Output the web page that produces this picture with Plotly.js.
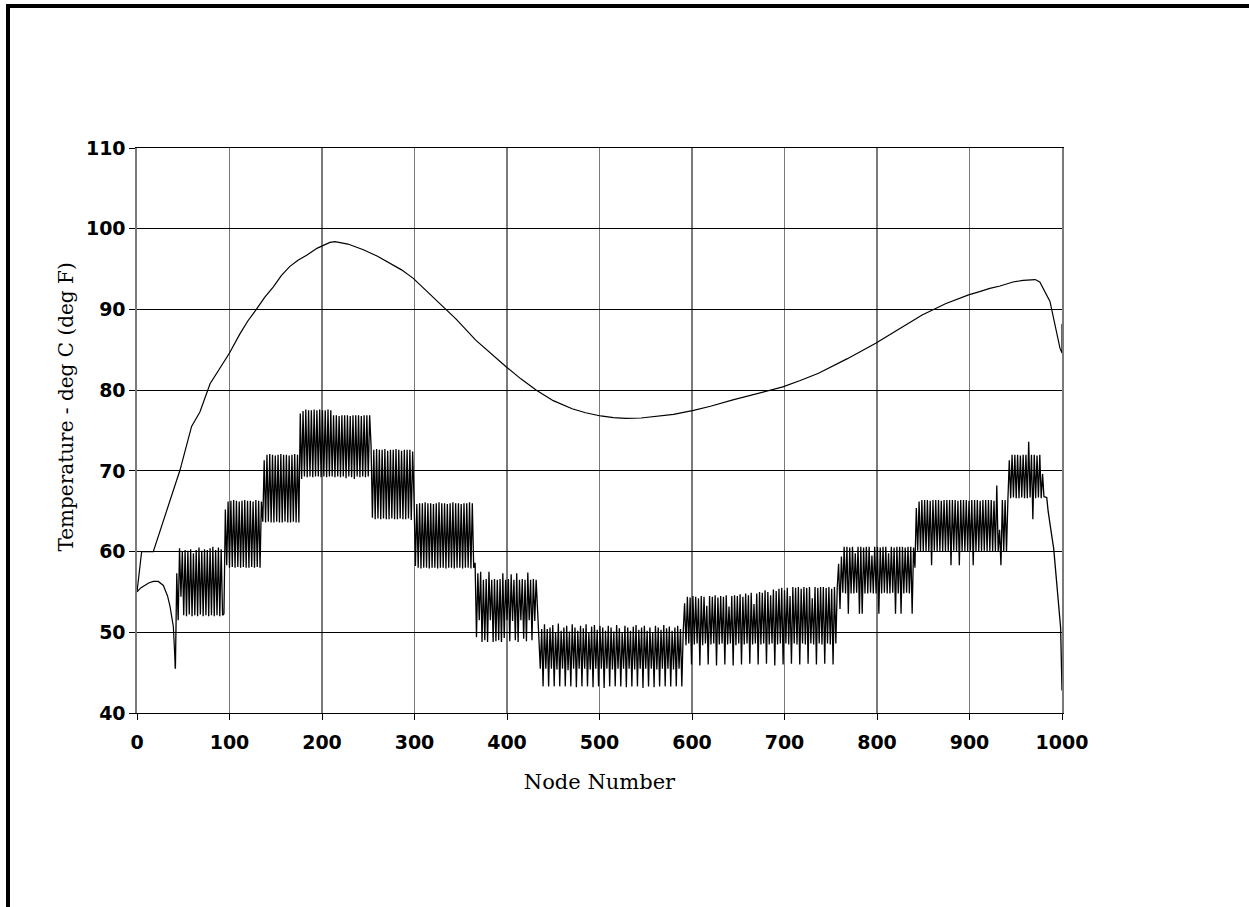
<!DOCTYPE html>
<html>
<head>
<meta charset="utf-8">
<script src="https://cdn.plot.ly/plotly-3.0.1.min.js"></script>
<style>
  html, body { margin: 0; padding: 0; background: #fff; }
  #chart { position: absolute; left: 0; top: 0; width: 1249px; height: 907px; }
  #frame { position: absolute; left: 6px; top: 4px; width: 1243px; height: 903px;
           border-top: 4px solid #000; border-left: 4px solid #000; box-sizing: border-box;
           pointer-events: none; }
</style>
</head>
<body>
<div id="chart"></div>
<div id="frame"></div>
<script>
// ---- Data ----
const xTicks = [0, 100, 200, 300, 400, 500, 600, 700, 800, 900, 1000];
const yTicks = [40, 50, 60, 70, 80, 90, 100, 110];

// Upper (smooth) temperature profile
const upperX = [0, 5, 17.6, 28.5, 46.5, 59, 68, 79, 100, 111.4, 120, 129, 138, 147.4, 156, 165, 174, 183.4, 195, 208.6, 214, 228, 244.7, 260, 273.5, 286, 298.7, 312, 327.6, 345, 366.2, 383, 399, 415, 431.8, 450, 470.4, 485, 501.3, 515, 528.3, 545, 559.2, 580, 601.7, 620, 644.2, 670, 698.2, 717, 736.8, 768, 798.6, 823, 848.8, 874, 899, 911, 922, 933, 947, 958, 971, 976, 987, 997.8, 1000, 1000];
const upperY = [55.0, 60.0, 60.0, 63.9, 70.1, 75.5, 77.3, 80.8, 84.6, 87.0, 88.6, 90.0, 91.5, 92.8, 94.2, 95.3, 96.1, 96.7, 97.6, 98.3, 98.4, 98.1, 97.4, 96.6, 95.7, 94.9, 93.85, 92.4, 90.75, 88.8, 86.2, 84.5, 82.9, 81.4, 80.0, 78.7, 77.7, 77.2, 76.8, 76.6, 76.5, 76.55, 76.7, 77.0, 77.5, 78.0, 78.8, 79.6, 80.4, 81.2, 82.1, 83.9, 85.8, 87.5, 89.3, 90.7, 91.8, 92.2, 92.6, 92.9, 93.4, 93.6, 93.7, 93.4, 91.0, 85.2, 84.6, 88.2];

// Lower profile: smooth start section
const lowerStartX = [0, 4, 12.6, 17.6, 23, 28.5, 33, 35.7, 39.3, 41.5];
const lowerStartY = [55.0, 55.5, 56.1, 56.3, 56.3, 55.8, 54.5, 53.2, 50.7, 45.5];

// Lower profile: oscillating section, one value every 1.5 nodes from node 41.5
const lowA = [45.5, 57.3, 51.5, 60.4, 54.4, 60.0, 52.1, 60.2, 52.0, 60.1, 52.2, 60.3, 52.0, 59.8, 52.1, 60.2, 52.0, 60.5, 52.2, 60.1, 52.0, 60.3, 52.1, 60.2, 52.0, 60.4, 52.1, 60.6, 52.0, 60.2, 52.1, 60.5, 52.0, 60.3, 52.1, 52.3];
const lowB = [65.2, 58.3, 66.2, 58.0, 66.3, 58.1, 66.4, 58.0, 66.3, 58.1, 66.2, 58.0, 66.3, 58.1, 66.4, 58.0, 66.3, 58.0, 66.3, 58.1, 66.2, 58.0, 66.4, 58.1, 66.3, 58.0, 66.2];
const lowC = [63.7, 71.3, 63.6, 72.0, 63.7, 72.1, 63.6, 72.0, 63.6, 71.9, 63.7, 72.0, 63.6, 72.1, 63.6, 72.0, 63.7, 72.0, 63.6, 71.9, 63.6, 72.0, 63.7, 72.1, 63.6, 72.0, 63.6];
const lowD1 = [77.1, 69.0, 77.4, 69.3, 77.6, 69.2, 77.5, 69.3, 77.5, 69.2, 77.6, 69.3, 77.5, 69.3, 77.6, 69.2, 77.5, 69.3, 77.5, 69.2, 77.6, 69.3, 77.5, 69.3];
const lowD2 = [76.9, 69.2, 76.9, 69.3, 76.8, 69.2, 76.9, 69.3, 76.9, 69.1, 76.9, 69.3, 76.8, 69.2, 76.9, 69.0, 76.9, 69.3, 76.9, 69.2, 76.8, 69.3, 76.9, 69.2, 76.9, 69.3, 76.9];
const lowE = [73.2, 64.2, 72.6, 64.0, 72.7, 64.1, 72.6, 64.0, 72.6, 64.1, 72.7, 64.0, 72.5, 64.0, 72.6, 64.1, 72.6, 64.0, 72.7, 64.0, 72.6, 64.1, 72.5, 64.0, 72.6, 64.0, 72.6, 64.1, 72.6, 63.9, 72.4];
const lowF = [66.5, 58.2, 65.9, 58.0, 66.0, 57.9, 66.0, 58.0, 66.1, 58.0, 66.0, 57.9, 66.0, 58.0, 65.9, 58.0, 66.0, 57.9, 66.1, 58.0, 66.0, 58.0, 66.0, 57.9, 65.9, 58.0, 66.0, 58.0, 66.1, 57.9, 66.0, 58.0, 66.0, 58.0, 65.9, 57.9, 66.0, 58.0, 66.0, 58.0, 66.1, 57.9, 66.0, 58.0];
const lowG = [58.6, 49.4, 57.3, 51.5, 57.5, 48.8, 56.5, 49.0, 56.6, 48.8, 57.5, 51.5, 56.5, 48.8, 56.6, 48.9, 56.5, 49.0, 56.6, 48.8, 57.3, 49.3, 56.5, 51.5, 56.6, 48.9, 57.2, 51.4, 56.5, 49.0, 57.3, 48.8, 56.5, 51.5, 56.6, 49.2, 56.5, 48.9, 57.4, 51.5, 56.5, 49.0, 56.6, 51.4, 56.5];
const lowH = [52.6, 50.7, 45.5, 50.4, 43.3, 51.0, 45.5, 50.4, 43.3, 50.6,
              45.5, 50.9, 43.3, 50.0, 45.4, 51.1, 43.3, 50.2, 45.5, 50.6,
              43.3, 50.8, 45.3, 50.1, 43.3, 51.0, 45.5, 50.6, 43.2, 50.2,
              45.5, 50.8, 43.3, 50.5, 45.5, 51.0, 43.3, 50.0, 45.4, 50.7,
              43.2, 50.9, 45.5, 50.3, 43.3, 50.8, 45.5, 50.6, 43.1, 50.2,
              45.5, 50.8, 43.3, 50.6, 45.4, 50.1, 43.3, 50.9, 45.5, 50.5,
              43.3, 50.0, 45.5, 50.8, 43.2, 50.6, 45.5, 50.2, 43.3, 50.7,
              45.4, 50.9, 43.3, 50.3, 45.5, 50.6, 43.1, 50.8, 45.5, 50.2,
              43.3, 50.6, 45.5, 50.0, 43.2, 50.8, 45.4, 50.6, 43.3, 50.3,
              45.5, 50.9, 43.3, 50.5, 45.5, 50.7, 43.3, 50.2, 45.4, 50.6,
              43.3, 50.8, 45.5, 50.4, 43.3, 50.1];
const lowI = [53.6, 48.4, 54.4, 48.6, 54.3, 46.0, 54.5, 48.5, 54.4, 48.6,
              54.2, 45.9, 54.5, 48.4, 54.4, 48.6, 53.3, 46.0, 54.5, 48.5,
              54.4, 48.6, 54.6, 45.9, 54.3, 48.5, 54.5, 48.6, 54.4, 46.0,
              54.6, 48.5, 53.2, 48.6, 54.5, 45.9, 54.6, 48.4, 54.5, 48.6,
              54.7, 46.0, 54.4, 48.5, 54.8, 48.6, 54.6, 46.1, 54.9, 48.5,
              53.5, 48.6, 54.8, 46.0, 55.0, 48.5, 54.9, 48.6, 55.2, 46.1,
              55.0, 48.5, 54.6, 48.6, 55.3, 45.9, 55.1, 48.5, 55.4, 48.6,
              55.5, 46.0, 55.2, 48.6, 55.5, 48.5, 54.5, 46.1, 55.6, 48.6,
              55.5, 48.5, 55.6, 46.0, 55.4, 48.6, 55.6, 48.5, 55.5, 46.1,
              55.6, 48.6, 54.2, 48.5, 55.6, 46.0, 55.5, 48.6, 55.6, 48.5,
              55.6, 46.1, 55.5, 48.6, 55.6, 48.5, 55.4, 46.0, 55.6, 48.6, 55.5];
const lowJ = [58.5, 52.9, 59.4, 54.9, 60.6, 54.8, 60.6, 52.3, 60.5, 54.8,
              60.6, 54.8, 59.8, 54.9, 60.6, 52.3, 60.6, 52.3, 60.5, 54.8,
              60.6, 54.8, 60.6, 54.9, 59.5, 54.8, 60.6, 54.8, 60.6, 52.3,
              60.5, 54.8, 60.6, 54.9, 60.6, 54.8, 59.8, 54.8, 60.6, 54.9,
              60.5, 52.3, 60.6, 54.8, 60.6, 52.3, 60.6, 54.8, 60.5, 54.9,
              60.6, 54.8, 60.6, 52.3, 60.5, 58.0];
const lowK = [65.4, 60.1, 66.2, 60.0, 66.4, 60.0, 66.4, 60.0, 66.4, 60.0,
              66.3, 58.3, 66.4, 60.1, 66.4, 60.0, 66.4, 60.0, 66.3, 60.0,
              66.4, 60.0, 66.4, 60.0, 66.4, 58.3, 66.4, 60.1, 66.4, 60.0,
              66.3, 58.3, 66.4, 60.0, 66.4, 60.0, 66.4, 60.0, 66.3, 60.1,
              66.4, 58.3, 66.4, 60.0, 66.4, 60.0, 66.3, 60.0, 66.4, 60.1,
              66.4, 60.0, 66.4, 60.0, 66.4, 60.0, 66.3, 60.0, 68.2, 60.0,
              62.7, 58.3, 66.4, 60.0, 66.4, 60.0, 66.4];
const lowL = [71.3, 66.6, 72.0, 66.7, 72.0, 66.6, 72.0, 66.6, 71.9, 66.7,
              72.0, 66.6, 72.0, 66.6, 73.6, 66.7, 72.0, 64.0, 72.0, 66.6,
              71.9, 66.7, 72.0, 66.6, 69.6];
const lowEnd = [66.8, 66.7, 66.7, 65.0, 63.6, 62.8, 61.5, 60.4, 58.5, 56.6, 54.6, 52.8, 50.6, 42.8];

const lowerOscY = [].concat(lowA, lowB, lowC, lowD1, lowD2, lowE, lowF, lowG, lowH, lowI, lowJ, lowK, lowL, lowEnd);

const yTitle = 'Temperature - deg C (deg F)';
const xTitle = 'Node Number';

// ---- Chart ----
const traces = [
  { type: 'scatter', mode: 'lines', x: upperX, y: upperY, line: { color: '#000', width: 1.2 }, hoverinfo: 'skip' },
  { type: 'scatter', mode: 'lines', x: lowerStartX, y: lowerStartY, line: { color: '#000', width: 1.2 }, hoverinfo: 'skip' },
  { type: 'scatter', mode: 'lines', x0: 41.5, dx: 1.5, y: lowerOscY, line: { color: '#000', width: 1.3 }, hoverinfo: 'skip' }
];

const tickFont = { family: 'DejaVu Sans, Verdana, sans-serif', size: 19, weight: 'bold', color: '#000' };

const layout = {
  width: 1249, height: 907,
  margin: { l: 137, r: 187, t: 148, b: 194, pad: 0 },
  paper_bgcolor: '#fff', plot_bgcolor: '#fff',
  showlegend: false,
  xaxis: {
    range: [0, 1000], tickmode: 'array', tickvals: xTicks, ticktext: xTicks.map(String),
    showgrid: true, gridcolor: '#7a7a7a', gridwidth: 1.6, zeroline: false,
    showline: true, mirror: true, linecolor: '#000', linewidth: 1,
    ticks: 'outside', ticklen: 6, tickwidth: 1, tickcolor: '#000',
    ticklabelstandoff: 6,
    tickfont: tickFont,
    title: { text: xTitle, font: { family: 'DejaVu Serif, serif', size: 21, color: '#000' }, standoff: 22 }
  },
  yaxis: {
    range: [40, 110], tickmode: 'array', tickvals: yTicks, ticktext: yTicks.map(String),
    showgrid: true, gridcolor: '#000', gridwidth: 1, zeroline: false,
    showline: true, mirror: true, linecolor: '#7a7a7a', linewidth: 1.6,
    ticks: 'outside', ticklen: 6, tickwidth: 1, tickcolor: '#000',
    tickfont: tickFont
  },
  annotations: [{
    text: yTitle, xref: 'paper', yref: 'paper', x: -0.077, y: 0.542,
    xanchor: 'center', yanchor: 'middle', textangle: -90, showarrow: false,
    font: { family: 'DejaVu Serif, serif', size: 20, color: '#000' }
  }]
};

Plotly.newPlot('chart', traces, layout, { staticPlot: true, displayModeBar: false });
</script>
</body>
</html>
